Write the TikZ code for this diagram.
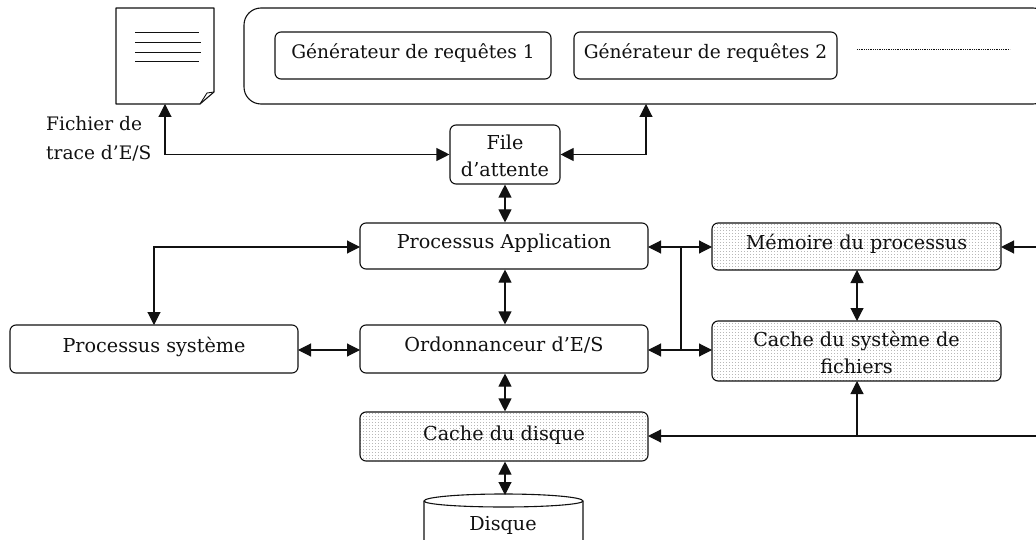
\documentclass[tikz,border=0pt]{standalone}
\usepackage{fontspec}
\setmainfont{DejaVu Serif}
\usetikzlibrary{arrows.meta,patterns,calc}
\pgfdeclarepatternformonly{tinydots}{\pgfqpoint{0pt}{0pt}}{\pgfqpoint{1pt}{1pt}}{\pgfqpoint{3pt}{3pt}}{\pgfpathrectangle{\pgfqpoint{0pt}{0pt}}{\pgfqpoint{1pt}{1pt}}\pgfusepath{fill}}
\definecolor{ink}{HTML}{111111}
\definecolor{dotgrey}{HTML}{B8B8B8}
\tikzset{
  box/.style={draw=ink,line width=1.1pt,rounded corners=6pt,align=center,inner sep=0pt,font=\fontsize{19.2}{27}\selectfont,text=ink},
  genbox/.style={box,font=\fontsize{18.6}{27}\selectfont},
  shaded/.style={box,pattern=tinydots,pattern color=dotgrey},
  link/.style={draw=ink,line width=1.1pt},
  both/.style={link,{Triangle[length=13pt,width=13pt]}-{Triangle[length=13pt,width=13pt]}},
  head/.style={link,-{Triangle[length=13pt,width=13pt]}},
  caption/.style={font=\fontsize{18.6}{29}\selectfont,text=ink,inner sep=0pt,align=left,anchor=north west}
}
\newcommand{\up}[2]{\raisebox{#1pt}[\height][\depth]{\begin{tabular}{@{}c@{}}#2\end{tabular}}}
\newcommand{\rbox}[8][box]{\node[#1,minimum width=#5pt-#3pt,minimum height=#6pt-#4pt] (#2) at ({(#3+#5)/2},{(#4+#6)/2}) {\up{#7}{#8}}}
\begin{document}
\begin{tikzpicture}[x=1pt,y=-1pt]
\useasboundingbox (0,0) rectangle (1036,540);
\clip (0,0) rectangle (1036,540);
\fill[white] (0,0) rectangle (1036,540);
% document
\draw[link,line join=round] (116,8) -- (214,8) -- (214,92) -- (200,104) -- (116,104) -- cycle;
\draw[line width=.9pt,draw=ink] (214,92) -- (207,93) -- (200,104);
\foreach \yy/\xx in {32/199,42/201,52/201,61/199}
  \draw[draw=ink,line width=.9pt] (135,\yy) -- (\xx,\yy);
\coordinate (docb) at (165,104);
\node[caption] (trace) at (46,116) {Fichier de\\trace d’E/S};
% generators
\node[box,rounded corners=17pt,minimum width=806pt,minimum height=96pt] (req) at (647,56) {};
\rbox[genbox]{gena}{275}{32}{551}{79}{2.2}{Générateur de requêtes 1};
\rbox[genbox]{genb}{574}{32}{837}{79}{2.2}{Générateur de requêtes 2};
\coordinate (dota) at (857,49);
\coordinate (dotb) at (1010,49);
\draw[draw=ink,line width=.8pt,densely dotted] (dota) -- (dotb);
% main boxes
\rbox{file}{450}{125}{560}{184}{-3}{File\\d’attente};
\rbox{app}{360}{223}{648}{269}{3.2}{Processus Application};
\rbox{ord}{360}{325}{648}{373}{3}{Ordonnanceur d’E/S};
\rbox{sys}{10}{325}{298}{373}{2}{Processus système};
\rbox[shaded]{cdisk}{360}{412}{648}{461}{1.2}{Cache du disque};
\rbox[shaded]{mem}{712}{223}{1001}{270}{2.2}{Mémoire du processus};
\rbox[shaded]{cfs}{712}{321}{1001}{381}{-3.8}{Cache du système de\\fichiers};
% disk
\draw[link] (424,545) -- (424,501) arc[start angle=180,end angle=360,x radius=79.5,y radius=7] -- (583,545);
\draw[link] (424,501) arc[start angle=180,end angle=0,x radius=79.5,y radius=6];
\coordinate (disktop) at (505,495);
\node[font=\fontsize{19.2}{27}\selectfont,text=ink,inner sep=0pt] (disk) at (503,525) {Disque};
% connectors
\coordinate (reqarrow) at (646,104);
\draw[both] (docb) |- (file.west);
\draw[both] (file.east) -| (reqarrow);
\draw[both] (file.south) -- (file.south |- app.north);
\draw[both] (file.south |- app.south) -- (file.south |- ord.north);
\draw[both] (file.south |- ord.south) -- (file.south |- cdisk.north);
\draw[both] (file.south |- cdisk.south) -- (disktop);
\coordinate (sysin) at (154,325);
\coordinate (appl) at (360,247);
\draw[both] (appl) -| (sysin);
\coordinate (ordr) at (648,350);
\coordinate (ordl) at (360,350);
\coordinate (sysr) at (298,350);
\coordinate (cfsl) at (712,350);
\draw[both] (sysr) -- (ordl);
\coordinate (appr) at (648,247);
\coordinate (meml) at (712,247);
\draw[both] (appr) -- (meml);
\draw[both] (ordr) -- (cfsl);
\coordinate (ja) at (681,247);
\coordinate (jb) at (681,350);
\draw[link] (ja) -- (jb);
\coordinate (edgea) at (1037,247);
\coordinate (memr) at (1001,247);
\draw[head] (edgea) -- (memr);
\coordinate (cfsb) at (857,381);
\coordinate (memb) at (857,270);
\coordinate (cfst) at (857,321);
\coordinate (jc) at (857,436);
\coordinate (edgeb) at (1037,436);
\coordinate (cdiskr) at (648,436);
\draw[both] (memb) -- (cfst);
\draw[head] (edgeb) -- (cdiskr);
\draw[head] (jc) -- (cfsb);
\end{tikzpicture}
\end{document}
